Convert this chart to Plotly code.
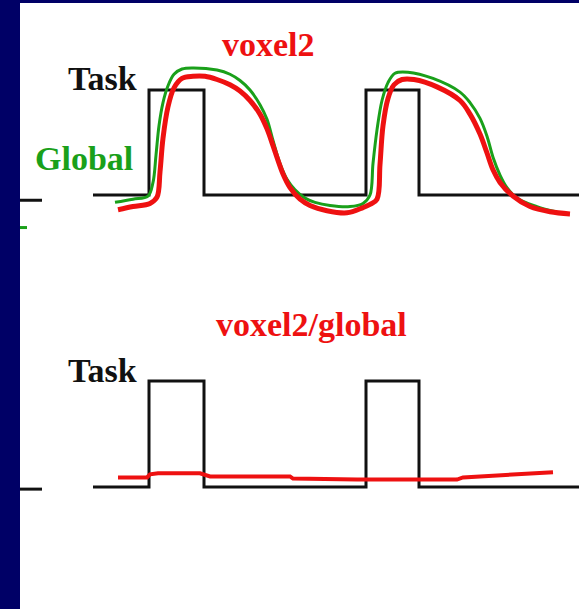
import plotly.graph_objects as go

# ---- data (time in arbitrary units, signal in task-units) ----
task_t = [7.3, 12.9, 18.4, 34.6, 39.9, 55.9]
task_v = [0, 1, 0, 1, 0, 0]

task_left_t = [0.0, 2.2]
task_left_top_v = [-0.05, -0.05]
task_left_bot_v = [-0.02, -0.02]

global_stub_t = [0.0, 0.7]
global_stub_v = [-0.31, -0.31]

global_t = [9.5, 11.3, 12.8, 13.3, 13.6, 13.9, 14.3, 14.8, 15.4, 16.2, 17.3, 19.7,
            21.0, 22.0, 23.0, 24.0, 24.7, 25.3, 26.0, 26.7, 27.5, 28.5, 29.5, 31.0,
            33.0, 34.3, 35.0, 35.3, 35.7, 36.2, 36.8, 37.5, 38.8, 41.3, 44.0, 45.0,
            46.0, 46.7, 47.3, 48.0, 48.7, 49.7, 51.7, 53.6]
global_v = [-0.07, -0.04, -0.01, 0.12, 0.38, 0.66, 0.88, 1.04, 1.15, 1.20, 1.21, 1.19,
            1.15, 1.09, 1.00, 0.86, 0.72, 0.52, 0.30, 0.15, 0.05, -0.03, -0.07, -0.10,
            -0.11, -0.08, 0.00, 0.30, 0.62, 0.90, 1.07, 1.16, 1.17, 1.11, 0.98, 0.88,
            0.73, 0.56, 0.36, 0.19, 0.07, -0.03, -0.11, -0.16]

voxel_t = [9.8, 11.3, 13.0, 13.7, 14.0, 14.3, 14.8, 15.4, 16.2, 17.3, 18.5, 19.7,
           21.0, 22.0, 23.0, 24.0, 24.7, 25.3, 25.8, 26.3, 27.0, 28.0, 29.0, 30.7,
           32.7, 34.3, 35.0, 35.7, 36.0, 36.3, 36.8, 37.4, 38.2, 39.4, 41.7, 44.0,
           45.0, 46.0, 46.7, 47.3, 48.0, 49.3, 51.0, 53.0, 55.0]
voxel_v = [-0.14, -0.11, -0.08, -0.02, 0.22, 0.54, 0.84, 1.02, 1.11, 1.13, 1.13, 1.10,
           1.05, 0.99, 0.90, 0.77, 0.63, 0.47, 0.33, 0.20, 0.07, -0.04, -0.10, -0.15,
           -0.17, -0.12, -0.09, -0.04, 0.29, 0.66, 0.92, 1.05, 1.10, 1.10, 1.03, 0.90,
           0.77, 0.58, 0.40, 0.24, 0.12, -0.01, -0.11, -0.16, -0.18]

ratio_t = [9.8, 12.7, 13.0, 13.8, 18.0, 19.0, 27.0, 27.3, 33.7, 39.7, 43.7, 44.3,
           48.0, 50.3, 53.3]
ratio_v = [0.09, 0.09, 0.12, 0.13, 0.13, 0.10, 0.10, 0.08, 0.07, 0.07, 0.07, 0.09,
           0.11, 0.13, 0.14]

labels = {
    "task_top": ("Task", 8.2, 1.11),
    "global": ("Global", 6.35, 0.35),
    "voxel": ("voxel2", 24.8, 1.43),
    "ratio": ("voxel2/global", 29.1, 1.53),
    "task_bot": ("Task", 8.25, 1.10),
}

BLACK = "#111111"
RED = "#ee1111"
GREEN = "#1aa01a"
NAVY = "#000066"

fig = go.Figure()

# top panel
fig.add_trace(go.Scatter(x=task_left_t, y=task_left_top_v, mode="lines",
                         line=dict(color=BLACK, width=3), xaxis="x", yaxis="y"))
fig.add_trace(go.Scatter(x=task_t, y=task_v, mode="lines", line_shape="hv",
                         line=dict(color=BLACK, width=3), xaxis="x", yaxis="y"))
fig.add_trace(go.Scatter(x=global_stub_t, y=global_stub_v, mode="lines",
                         line=dict(color=GREEN, width=3), xaxis="x", yaxis="y"))
fig.add_trace(go.Scatter(x=global_t, y=global_v, mode="lines", line_shape="spline",
                         line=dict(color=GREEN, width=3, smoothing=1.0), xaxis="x", yaxis="y"))
fig.add_trace(go.Scatter(x=voxel_t, y=voxel_v, mode="lines", line_shape="spline",
                         line=dict(color=RED, width=5, smoothing=1.0), xaxis="x", yaxis="y"))

# bottom panel
fig.add_trace(go.Scatter(x=task_left_t, y=task_left_bot_v, mode="lines",
                         line=dict(color=BLACK, width=3), xaxis="x2", yaxis="y2"))
fig.add_trace(go.Scatter(x=task_t, y=task_v, mode="lines", line_shape="hv",
                         line=dict(color=BLACK, width=3), xaxis="x2", yaxis="y2"))
fig.add_trace(go.Scatter(x=ratio_t, y=ratio_v, mode="lines",
                         line=dict(color=RED, width=4), xaxis="x2", yaxis="y2"))

font = dict(family="Liberation Serif, Times New Roman, serif", size=34)
ann = []
for key, (txt, tx, ty) in labels.items():
    color = BLACK
    if key == "global":
        color = GREEN
    elif key in ("voxel", "ratio"):
        color = RED
    ref = ("x", "y") if key in ("task_top", "global", "voxel") else ("x2", "y2")
    ann.append(dict(text="<b>%s</b>" % txt, x=tx, y=ty, xref=ref[0], yref=ref[1],
                    showarrow=False, xanchor="center", yanchor="middle",
                    font=dict(color=color, **font)))

H = 609.0
split = 1 - 300 / H
axis_common = dict(visible=False, showgrid=False, zeroline=False, fixedrange=True)
fig.update_layout(
    width=579, height=609,
    margin=dict(l=0, r=0, t=0, b=0),
    paper_bgcolor=NAVY, plot_bgcolor="white",
    showlegend=False,
    xaxis=dict(domain=[20 / 579, 1], range=[0, 55.9], anchor="y", **axis_common),
    yaxis=dict(domain=[split, 1 - 3 / H], range=[-1.0, 1.8286], anchor="x", **axis_common),
    xaxis2=dict(domain=[20 / 579, 1], range=[0, 55.9], anchor="y2", **axis_common),
    yaxis2=dict(domain=[0, split], range=[-1.1509, 1.7642], anchor="x2", **axis_common),
    annotations=ann,
)

fig.write_html("out.html", config={"displayModeBar": False},
               post_script="document.body.style.margin='0';document.body.style.overflow='hidden';")
